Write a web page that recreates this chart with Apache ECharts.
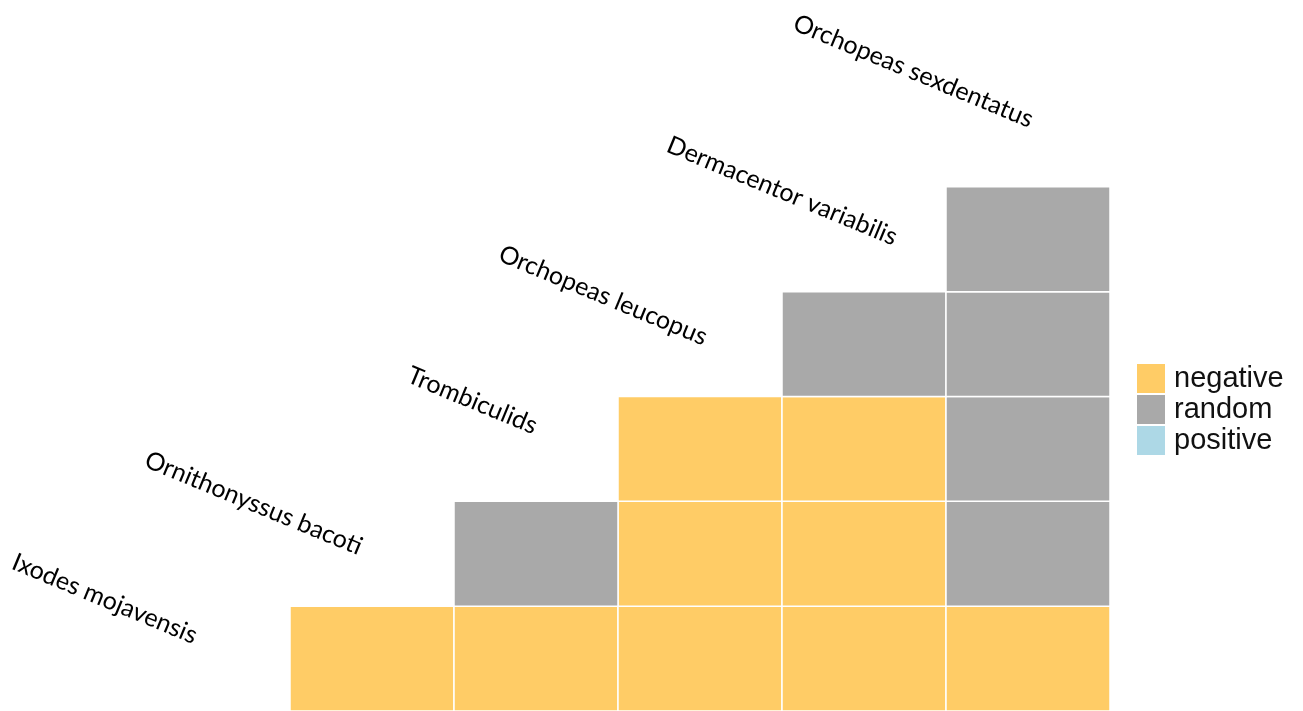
<!DOCTYPE html>
<html>
<head>
<meta charset="utf-8">
<title>Species co-occurrence</title>
<script src="https://cdn.jsdelivr.net/npm/echarts@6/dist/echarts.min.js"></script>
<style>
  html, body { margin: 0; padding: 0; background: #fff; }
  #chart { width: 1303px; height: 711px; }
</style>
</head>
<body>
<div id="chart"></div>
<script>
// Species, in matrix order (index 0 sits at the bottom-left of the diagonal)
const species = [
  'Ixodes mojavensis',
  'Ornithonyssus bacoti',
  'Trombiculids',
  'Orchopeas leucopus',
  'Dermacentor variabilis',
  'Orchopeas sexdentatus'
];

// Species pairs [a, b] (a < b) by co-occurrence outcome
const negativePairs = [[0, 1], [0, 2], [0, 3], [0, 4], [0, 5], [1, 3], [1, 4], [2, 3], [2, 4]];
const randomPairs = [[1, 2], [1, 5], [2, 5], [3, 4], [3, 5], [4, 5]];
const positivePairs = [];

const outcomeNames = ['negative', 'random', 'positive'];
const outcomeColors = ['#FFCC66', '#A9A9A9', '#ADD8E6'];

// Per-label pixel nudges of the diagonal species names
const labelShift = [[-12, -22], [-11, -6], [0, -22], [6, -6], [32, -1], [4, -14]];

const chart = echarts.init(document.getElementById('chart'), null, { renderer: 'canvas' });

function tileSeries(name, pairs, color) {
  return {
    name: name,
    type: 'custom',
    coordinateSystem: 'cartesian2d',
    itemStyle: { color: color },
    encode: { x: 0, y: 1 },
    data: pairs.map(p => [p[1], p[0]]),
    renderItem: function (params, api) {
      const x = api.value(0), y = api.value(1);
      const a = api.coord([x, y]);
      const b = api.coord([x + 1, y + 1]);
      return {
        type: 'rect',
        shape: { x: a[0], y: b[1], width: b[0] - a[0], height: a[1] - b[1] },
        style: { fill: color, stroke: '#ffffff', lineWidth: 1.5 }
      };
    }
  };
}

const labelSeries = {
  name: 'species',
  type: 'custom',
  coordinateSystem: 'cartesian2d',
  silent: true,
  clip: false,
  encode: { x: 0, y: 1 },
  data: species.map((s, i) => [i, i]),
  renderItem: function (params, api) {
    const i = params.dataIndex;
    const c = api.coord([api.value(0) + 0.5, api.value(1) + 0.5]);
    return {
      type: 'text',
      x: c[0] + labelShift[i][0],
      y: c[1] + labelShift[i][1],
      rotation: -22.5 * Math.PI / 180,
      style: {
        text: species[i],
        align: 'right',
        verticalAlign: 'middle',
        fontFamily: 'Lato',
        fontSize: 25,
        fill: '#000000'
      }
    };
  }
};

const pairSets = [negativePairs, randomPairs, positivePairs];

chart.setOption({
  animation: false,
  backgroundColor: '#ffffff',
  grid: { left: 126, top: 82, width: 984, height: 631 },
  xAxis: { type: 'value', min: 0, max: species.length, show: false },
  yAxis: { type: 'value', min: 0, max: species.length, show: false },
  legend: {
    data: outcomeNames,
    orient: 'vertical',
    left: 1137,
    top: 364,
    padding: 0,
    icon: 'rect',
    itemWidth: 28,
    itemHeight: 29,
    itemGap: 2,
    selectedMode: false,
    textStyle: {
      fontFamily: 'Liberation Sans',
      fontSize: 29,
      color: '#111111',
      padding: [0, 0, 0, 4]
    }
  },
  series: outcomeNames.map((n, k) => tileSeries(n, pairSets[k], outcomeColors[k])).concat([labelSeries])
});
</script>
</body>
</html>
